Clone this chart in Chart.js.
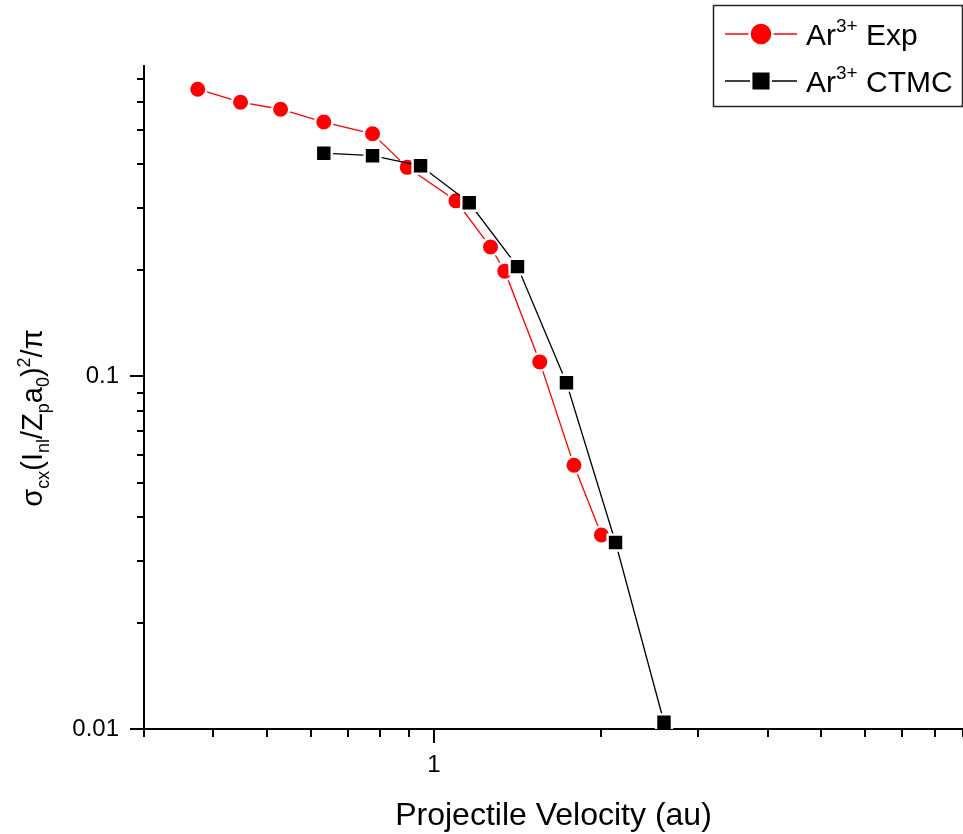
<!DOCTYPE html>
<html><head><meta charset="utf-8">
<script src="https://cdn.jsdelivr.net/npm/chart.js@4.4.0/dist/chart.umd.min.js"></script>
<style>html,body{margin:0;padding:0;background:#fff;overflow:hidden}#wrap{width:963px;height:834px;position:relative}</style>
</head><body><div id="wrap"><canvas id="c"></canvas></div>
<script>
// ---- data ----
const expVelocity      = [0.375, 0.448, 0.529, 0.633, 0.775, 0.895, 1.096, 1.265, 1.342, 1.552, 1.789, 2.005];
const expCrossSection  = [0.653, 0.600, 0.573, 0.527, 0.488, 0.392, 0.315, 0.233, 0.199, 0.110, 0.056, 0.0355];
const ctmcVelocity     = [0.633, 0.775, 0.946, 1.158, 1.415, 1.734, 2.126, 2.600];
const ctmcCrossSection = [0.430, 0.423, 0.396, 0.311, 0.205, 0.096, 0.0338, 0.01045];
const seriesIon = 'Ar';
const seriesCharge = '3+';
const seriesNames = ['Exp', 'CTMC'];
const xTickValues = [0.3, 0.4, 0.5, 0.6, 0.7, 0.8, 0.9, 1, 2, 3, 4, 5, 6, 7, 8, 9];
const xTickLabels = ['', '', '', '', '', '', '', '1', '', '', '', '', '', '', '', ''];
const yTickValues = [0.01, 0.02, 0.03, 0.04, 0.05, 0.06, 0.07, 0.08, 0.09, 0.1, 0.2, 0.3, 0.4, 0.5, 0.6, 0.7];
const yTickLabels = ['0.01', '', '', '', '', '', '', '', '', '0.1', '', '', '', '', '', ''];
const xAxisTitle = 'Projectile Velocity (au)';
const yAxisTitleParts = [['σ','n'],['cx','sub'],['(I','n'],['nl','sub'],['/Z','n'],['p','sub'],['a','n'],['0','sub'],[')','n'],['2','sup'],['/π','n']];

const FONT = "'Liberation Sans', Arial, sans-serif";

const customPlugin = {
  id: 'custom',
  afterDraw(chart) {
    const ctx = chart.ctx;
    const xs = chart.scales.x, ys = chart.scales.y;
    const ca = chart.chartArea;
    ctx.save();
    ctx.strokeStyle = '#000';
    ctx.lineWidth = 2;
    // x ticks
    xTickValues.forEach((v, i) => {
      const px = Math.round(xs.getPixelForValue(v));
      const len = xTickLabels[i] ? 14 : 8;
      ctx.beginPath(); ctx.moveTo(px, ca.bottom); ctx.lineTo(px, ca.bottom + len); ctx.stroke();
    });
    // y ticks
    yTickValues.forEach((v, i) => {
      const py = Math.round(ys.getPixelForValue(v));
      const len = yTickLabels[i] ? 14 : 7;
      ctx.beginPath(); ctx.moveTo(ca.left, py); ctx.lineTo(ca.left - len, py); ctx.stroke();
    });
    // y title
    ctx.fillStyle = '#000';
    ctx.textBaseline = 'alphabetic';
    const main = 29, small = 18;
    const fontFor = s => (s === 'n' ? main : small) + 'px ' + FONT;
    let total = 0;
    yAxisTitleParts.forEach(([t, s]) => { ctx.font = fontFor(s); total += ctx.measureText(t).width; });
    ctx.translate(42, 418);
    ctx.rotate(-Math.PI / 2);
    let cx = -total / 2;
    yAxisTitleParts.forEach(([t, s]) => {
      ctx.font = fontFor(s);
      const dy = s === 'sub' ? 7 : (s === 'sup' ? -12 : 0);
      ctx.fillText(t, cx, dy);
      cx += ctx.measureText(t).width;
    });
    ctx.setTransform(1, 0, 0, 1, 0, 0);
    // legend
    const lx = 713, ly = 5, lw = 249, lh = 101;
    ctx.strokeStyle = '#222';
    ctx.lineWidth = 1.5;
    ctx.strokeRect(lx + 0.5, ly + 0.5, lw, lh);
    const rows = [34, 81];
    const legendRadius = [11.5, 13.8];
    chart.data.datasets.forEach((ds, i) => {
      const y = rows[i];
      ctx.strokeStyle = ds.borderColor;
      ctx.lineWidth = ds.borderWidth;
      ctx.beginPath(); ctx.moveTo(725, y); ctx.lineTo(797, y); ctx.stroke();
      ctx.fillStyle = ds.pointBackgroundColor;
      ctx.strokeStyle = ds.pointBorderColor;
      ctx.lineWidth = ds.pointBorderWidth;
      Chart.helpers.drawPoint(ctx, {pointStyle: ds.pointStyle, radius: legendRadius[i], borderWidth: ds.pointBorderWidth, rotation: 0}, 761, y);
      ctx.fillStyle = '#000';
      ctx.textBaseline = 'alphabetic';
      let tx = 806;
      const base = y + 11;
      ctx.font = '30px ' + FONT;
      ctx.fillText(seriesIon, tx, base);
      tx += ctx.measureText(seriesIon).width;
      ctx.font = '19px ' + FONT;
      ctx.fillText(seriesCharge, tx, base - 13);
      tx += ctx.measureText(seriesCharge).width;
      ctx.font = '30px ' + FONT;
      tx += ctx.measureText(' ').width;
      ctx.fillText(seriesNames[i], tx, base);
    });
    ctx.restore();
  }
};

new Chart(document.getElementById('c'), {
  type: 'scatter',
  data: {
    datasets: [
      {
        label: seriesIon + seriesCharge + ' ' + seriesNames[0],
        data: expVelocity.map((x, i) => ({x, y: expCrossSection[i]})),
        showLine: true,
        borderColor: '#ff0000',
        backgroundColor: '#ff0000',
        borderWidth: 1.3,
        pointStyle: 'circle',
        pointRadius: 8.7,
        pointBackgroundColor: '#ff0000',
        pointBorderColor: '#ffffff',
        pointBorderWidth: 2.4,
        order: 1
      },
      {
        label: seriesIon + seriesCharge + ' ' + seriesNames[1],
        data: ctmcVelocity.map((x, i) => ({x, y: ctmcCrossSection[i]})),
        showLine: true,
        borderColor: '#000000',
        backgroundColor: '#000000',
        borderWidth: 1.3,
        pointStyle: 'rect',
        pointRadius: 11.2,
        pointBackgroundColor: '#000000',
        pointBorderColor: '#ffffff',
        pointBorderWidth: 2.4,
        order: 0
      }
    ]
  },
  options: {
    responsive: true,
    maintainAspectRatio: false,
    animation: false,
    events: [],
    layout: {autoPadding: false, padding: {top: 66, right: 0, left: 0, bottom: 0}},
    plugins: {legend: {display: false}, tooltip: {enabled: false}},
    scales: {
      x: {
        type: 'logarithmic',
        min: 0.3, max: 9,
        grid: {display: false, drawTicks: false},
        border: {display: true, color: '#000', width: 2},
        afterBuildTicks: s => { s.ticks = xTickValues.map(v => ({value: v})); },
        afterFit: s => { s.height = 105; s.paddingLeft = 0; s.paddingRight = 0; },
        ticks: {autoSkip: false, maxRotation: 0, padding: 22, color: '#000', font: {size: 24, family: FONT},
                callback: (v, i) => xTickLabels[i]},
        title: {display: true, text: xAxisTitle, color: '#000', font: {size: 32, family: FONT, lineHeight: 1.1}, padding: {top: 0, bottom: 0}}
      },
      y: {
        type: 'logarithmic',
        min: 0.01, max: 0.76,
        grid: {display: false, drawTicks: false},
        border: {display: true, color: '#000', width: 2},
        afterBuildTicks: s => { s.ticks = yTickValues.map(v => ({value: v})); },
        afterFit: s => { s.width = 144; s.paddingTop = 0; s.paddingBottom = 0; },
        ticks: {autoSkip: false, padding: 25, color: '#000', font: {size: 24, family: FONT},
                callback: (v, i) => yTickLabels[i]}
      }
    }
  },
  plugins: [customPlugin]
});
</script>
</body></html>
